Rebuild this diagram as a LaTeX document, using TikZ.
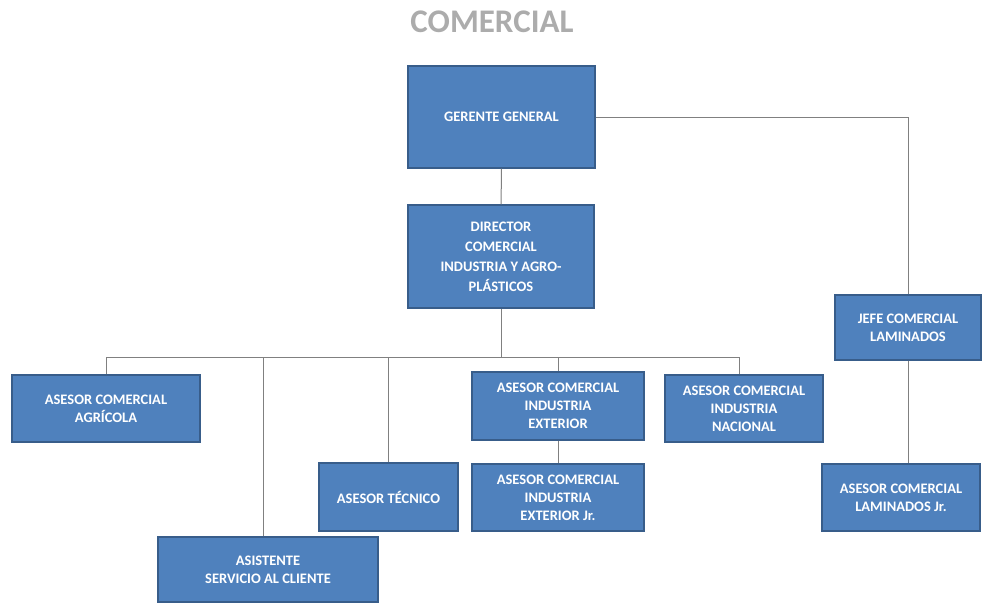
\documentclass[tikz,border=0pt]{standalone}
\usepackage{fontspec}
\setmainfont{Carlito}
\usepackage{tikz}
\usetikzlibrary{calc}
\definecolor{blau}{RGB}{79,129,189}
\definecolor{rand}{RGB}{56,93,138}
\definecolor{linie}{RGB}{128,128,128}

\begin{document}
\begin{tikzpicture}
     [
     x=1pt, y=-1pt,
     cargo/.style = {draw=rand, line width=1.2, fill=blau, text=white, align=center,
       inner sep=0pt, font=\fontsize{14.5}{18}\selectfont\bfseries},
     linea/.style = {draw=linie, line width=1}
     ]

     \useasboundingbox (0,0) rectangle (984,603);

     \path (492,22) node[text=gray!65, font=\fontsize{33}{33}\selectfont\bfseries] (titel) {COMERCIAL};

    \draw[draw=none] (501.5,117) node[cargo,minimum width=187,minimum height=102] (gg) {GERENTE GENERAL}
               (501,256.5) node[cargo,minimum width=186,minimum height=103] (dir) {DIRECTOR\\[2pt]COMERCIAL\\[2pt]INDUSTRIA  Y AGRO-\\[2pt]PLÁSTICOS}
               (106,408.5) node[cargo,minimum width=188,minimum height=67] (agr) {ASESOR COMERCIAL\\AGRÍCOLA}
               (388.5,497) node[cargo,minimum width=139,minimum height=68] (tec) {ASESOR TÉCNICO}
               (268,569.5) node[cargo,minimum width=220,minimum height=65] (asi) {ASISTENTE\\SERVICIO AL CLIENTE}
               (558,406) node[cargo,minimum width=172,minimum height=68] (ext) {ASESOR COMERCIAL\\INDUSTRIA\\EXTERIOR}
               (558,497.5) node[cargo,minimum width=172,minimum height=67] (exj) {ASESOR COMERCIAL\\INDUSTRIA\\EXTERIOR Jr.}
               (744,408.5) node[cargo,minimum width=158,minimum height=67] (nac) {ASESOR COMERCIAL\\INDUSTRIA\\NACIONAL}
               (908,327.5) node[cargo,minimum width=146,minimum height=65] (jef) {JEFE COMERCIAL\\LAMINADOS}
               (901,497.5) node[cargo,minimum width=158,minimum height=67] (laj) {ASESOR COMERCIAL\\LAMINADOS Jr.}
     ;

     \coordinate (bus) at (0,357);

     \draw[linea] (gg) edge (dir)
     (ext) edge (exj);
     \draw[linea] (dir.south) -- (dir |- bus);
     \draw[linea] (agr.north) -- (agr |- bus) -- ($(nac |- bus)+(-5,0)$) -- ($(nac.north)+(-5,0)$);
     \draw[linea] ($(asi.north)+(-5,0)$) -- ($(asi |- bus)+(-5,0)$);
     \draw[linea] (tec.north) -- (tec |- bus) (ext.north) -- (ext |- bus);

     \draw[linea] (gg.east) -| (jef.north);
     \draw[linea] (jef.south) -- (jef.south |- laj.north);
  \end{tikzpicture}
\end{document}
